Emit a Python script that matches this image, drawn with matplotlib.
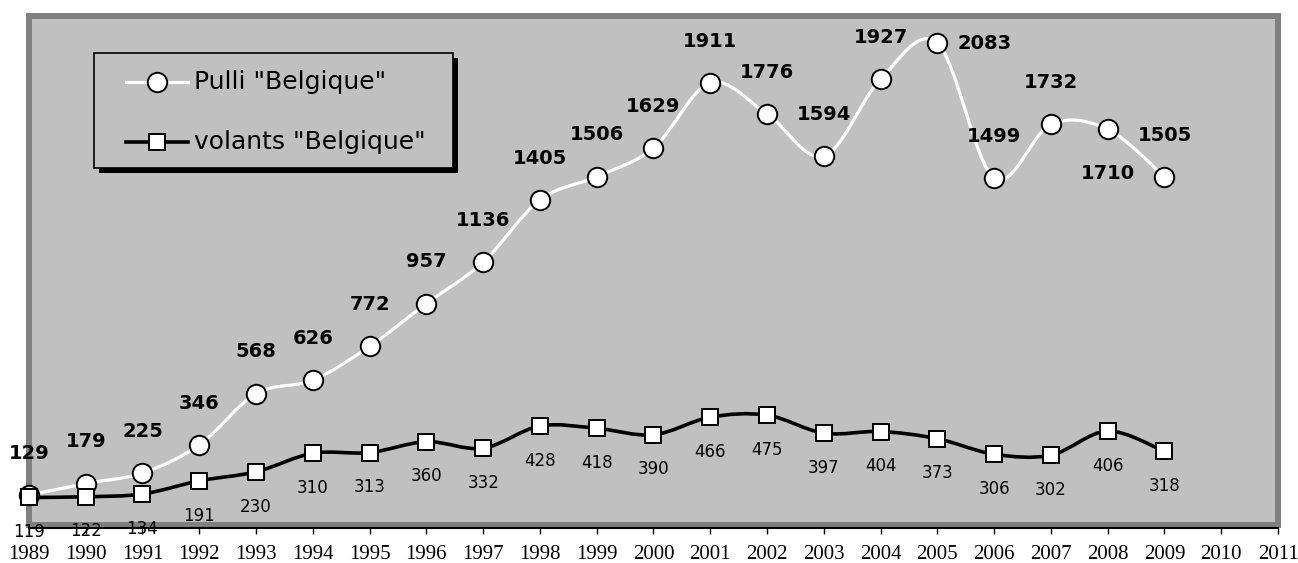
import numpy as np
import matplotlib.pyplot as plt
from matplotlib.path import Path
from matplotlib.patches import PathPatch, Rectangle
from matplotlib.lines import Line2D

# data
years = list(range(1989, 2010))
pulli = [129, 179, 225, 346, 568, 626, 772, 957, 1136, 1405, 1506,
         1629, 1911, 1776, 1594, 1927, 2083, 1499, 1732, 1710, 1505]
volants = [119, 122, 134, 191, 230, 310, 313, 360, 332, 428, 418,
           390, 466, 475, 397, 404, 373, 306, 302, 406, 318]
tick_years = list(range(1989, 2012))
labels = ['Pulli "Belgique"', 'volants "Belgique"']

bg = '#c0c0c0'
frame = '#808080'
W, H = 1298, 563


def smooth_path(x, y):
    # Catmull-Rom style bezier through the points (like Excel "smoothed line")
    p = np.column_stack([x, y]).astype(float)
    pts = np.vstack([p[0], p, p[-1]])
    verts = [p[0]]
    codes = [Path.MOVETO]
    for i in range(1, len(pts) - 2):
        c1 = pts[i] + (pts[i + 1] - pts[i - 1]) / 6
        c2 = pts[i + 1] - (pts[i + 2] - pts[i]) / 6
        verts += [c1, c2, pts[i + 1]]
        codes += [Path.CURVE4] * 3
    return Path(verts, codes)


def fx(x):
    return x / W


def fy(y):
    return 1 - y / H


fig = plt.figure(figsize=(W / 100, H / 100), dpi=100)
ax = fig.add_axes([0.0223, 0.0675, 0.9623, 0.9041])
ax.set_facecolor(bg)
ax.set_xlim(1989, 2011)
ax.set_ylim(0, 2200)

# smoothed lines
ax.add_patch(PathPatch(smooth_path(years, pulli), fill=False, edgecolor='white',
                       lw=2.3, zorder=3, clip_on=False))
ax.add_patch(PathPatch(smooth_path(years, volants), fill=False, edgecolor='black',
                       lw=2.6, zorder=3, clip_on=False))

ax.plot(years, pulli, 'o', ms=14, mfc='white', mec='black', mew=1.4,
        zorder=4, clip_on=False)
ax.plot(years, volants, 's', ms=11, mfc='white', mec='black', mew=1.4,
        zorder=4, clip_on=False)

# value labels
for yr, v in zip(years, pulli):
    off = (0, 30)
    if yr == 2005:
        off = (34, 0)
    elif yr == 2008:
        off = (0, -32)
    ax.annotate(str(v), (yr, v), xytext=off, textcoords='offset points',
                ha='center', va='center', fontsize=14, fontweight='bold',
                zorder=5, annotation_clip=False)
for yr, v in zip(years, volants):
    ax.annotate(str(v), (yr, v), xytext=(0, -25), textcoords='offset points',
                ha='center', va='center', fontsize=12, zorder=5,
                annotation_clip=False)

# plot area frame
for s in ['top', 'left', 'right']:
    ax.spines[s].set_visible(False)
ax.add_patch(Rectangle((0, 0), 1, 1, transform=ax.transAxes, fill=False,
                       edgecolor=frame, lw=4.3, zorder=2, clip_on=False))
ax.spines['bottom'].set_color('black')
ax.spines['bottom'].set_linewidth(1.5)
ax.spines['bottom'].set_position(('outward', 2))

ax.set_yticks([])
ax.set_xticks(tick_years)
ax.set_xticklabels([str(t) for t in tick_years], fontfamily='Liberation Serif',
                   fontsize=15)
ax.tick_params(axis='x', direction='out', length=4, width=1, color='black', pad=8.5)

# legend box drawn by hand (box + shadow, two rows)
fig.add_artist(Rectangle((fx(99), fy(173)), fx(359), 115 / H, transform=fig.transFigure,
                         facecolor='black', edgecolor='none', zorder=6))
fig.add_artist(Rectangle((fx(94), fy(168)), fx(359), 115 / H, transform=fig.transFigure,
                         facecolor=bg, edgecolor='black', lw=1.2, zorder=7))
rows = [(82, 'white', 2.3, 'o', 14), (142, 'black', 2.6, 's', 11)]
for (ry, col, lw, mk, ms), lab in zip(rows, labels):
    fig.add_artist(Line2D([fx(126), fx(188)], [fy(ry), fy(ry)], color=col, lw=lw,
                          transform=fig.transFigure, zorder=8))
    fig.add_artist(Line2D([fx(157)], [fy(ry)], marker=mk, ms=ms, mfc='white',
                          mec='black', mew=1.4, transform=fig.transFigure, zorder=9))
    fig.text(fx(194), fy(ry), lab, fontsize=18, va='center', ha='left', zorder=9)

plt.savefig('out.png', dpi=100)
